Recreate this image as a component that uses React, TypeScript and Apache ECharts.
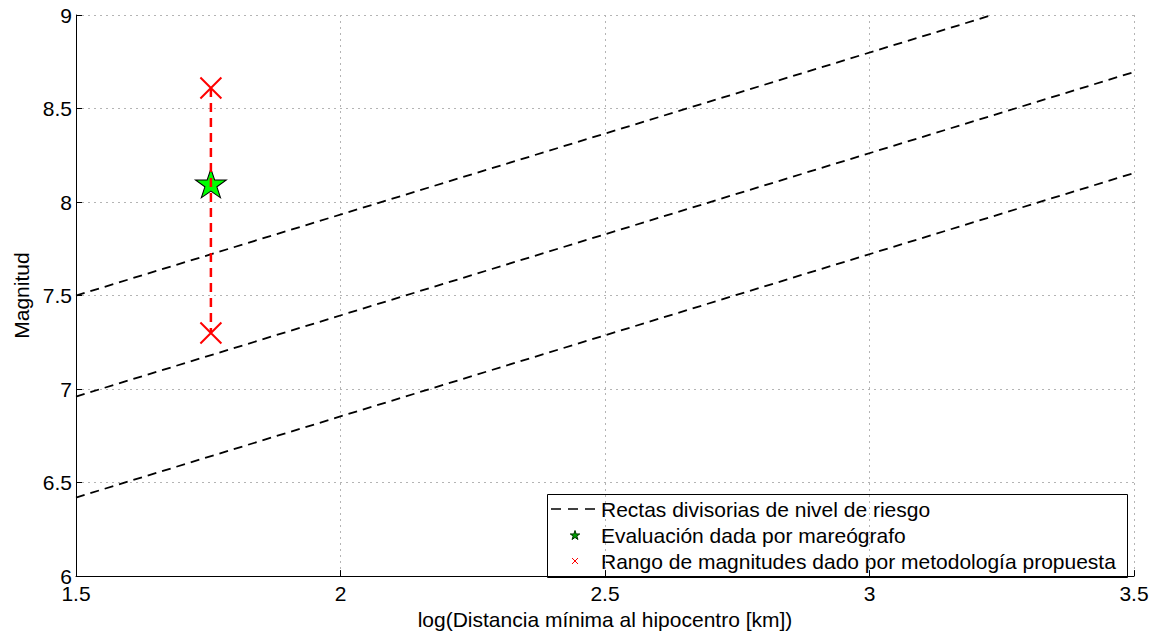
import React, { useEffect, useRef } from "react";
import * as echarts from "echarts";

// ---- data ----
const xTicksInterval = 0.5;
const xMin = 1.5;
const xMax = 3.5;
const yMin = 6;
const yMax = 9;
const riskLine1 = [[1.5, 7.5], [3.232, 9.0]];
const riskLine2 = [[1.5, 6.96], [3.5, 8.695]];
const riskLine3 = [[1.5, 6.42], [3.5, 8.155]];
const tideGauge = [[1.755, 8.1]];
const magnitudeRange = [[1.755, 8.61], [1.755, 7.3]];
const legendLabels = [
  "Rectas divisorias de nivel de riesgo",
  "Evaluación dada por mareógrafo",
  "Rango de magnitudes dado por metodología propuesta",
];
const xName = "log(Distancia mínima al hipocentro [km])";
const yName = "Magnitud";

const FONT = "'Liberation Sans', Arial, sans-serif";
const FS = 21;

const starPath =
  "path://M50,0 L61.8,35.1 L98.9,35.1 L68.9,56.9 L80.3,91.9 L50,70.3 L19.7,91.9 L31.1,56.9 L1.1,35.1 L38.2,35.1 Z";
const crossPath = "path://M0,0 L10,10 M10,0 L0,10";

function starPoints(cx: number, cy: number, R: number): number[][] {
  const pts: number[][] = [];
  const r = R * 0.382;
  for (let i = 0; i < 10; i++) {
    const a = -Math.PI / 2 + (i * Math.PI) / 5;
    const rad = i % 2 === 0 ? R : r;
    pts.push([cx + rad * Math.cos(a), cy + rad * Math.sin(a)]);
  }
  return pts;
}

export default function App() {
  const ref = useRef<HTMLDivElement>(null);
  useEffect(() => {
    if (!ref.current) return;
    const chart = echarts.init(ref.current, null, { renderer: "svg" });
    const dashBlack = {
      color: "#000",
      width: 1.8,
      type: [9, 6] as any,
    };
    const lg = { x: 547.5, y: 494.5, w: 580, h: 83 };
    const rows = [509, 535, 561];
    const textX = 601;
    const iconX = 575;
    chart.setOption({
      animation: false,
      backgroundColor: "#fff",
      grid: { left: 76, right: 31, top: 15, bottom: 52, containLabel: false },
      xAxis: {
        type: "value",
        min: xMin,
        max: xMax,
        interval: xTicksInterval,
        name: xName,
        nameLocation: "middle",
        nameGap: 27,
        nameTextStyle: { fontFamily: FONT, fontSize: FS, color: "#000" },
        axisLine: { show: true, onZero: false, lineStyle: { color: "#000", width: 1 } },
        axisTick: { show: true, inside: true, length: 6, lineStyle: { color: "#000" } },
        axisLabel: {
          fontFamily: FONT,
          fontSize: FS,
          color: "#000",
          margin: 7,
          formatter: (v: number) => String(v),
        },
        splitLine: {
          show: true,
          lineStyle: { color: "#b4b4b4", type: [2, 4] as any, width: 1 },
        },
      },
      yAxis: {
        type: "value",
        min: yMin,
        max: yMax,
        interval: 0.5,
        name: yName,
        nameLocation: "middle",
        nameRotate: 90,
        nameGap: 40,
        nameTextStyle: { fontFamily: FONT, fontSize: FS, color: "#000" },
        axisLine: { show: true, onZero: false, lineStyle: { color: "#000", width: 1 } },
        axisTick: { show: true, inside: true, length: 6, lineStyle: { color: "#000" } },
        axisLabel: {
          fontFamily: FONT,
          fontSize: FS,
          color: "#000",
          margin: 4,
          formatter: (v: number) => String(v),
        },
        splitLine: {
          show: true,
          lineStyle: { color: "#b4b4b4", type: [2, 4] as any, width: 1 },
        },
      },
      series: [
        { type: "line", data: riskLine1, symbol: "none", lineStyle: dashBlack, silent: true },
        { type: "line", data: riskLine2, symbol: "none", lineStyle: dashBlack, silent: true },
        { type: "line", data: riskLine3, symbol: "none", lineStyle: dashBlack, silent: true },
        {
          type: "scatter",
          data: tideGauge,
          symbol: starPath,
          symbolSize: [31, 29],
          itemStyle: { color: "#00ff00", borderColor: "#000", borderWidth: 1, opacity: 1 },
          z: 3,
        },
        {
          type: "line",
          data: magnitudeRange,
          symbol: crossPath,
          symbolSize: 21,
          showSymbol: true,
          lineStyle: { color: "#ff0000", width: 2.5, type: [9, 6] as any },
          itemStyle: { color: "transparent", borderColor: "#ff0000", borderWidth: 2 },
          z: 4,
        },
      ],
      graphic: [
        {
          type: "group",
          z: 100,
          children: [
            {
              type: "rect",
              shape: { x: lg.x, y: lg.y, width: lg.w, height: lg.h },
              style: { fill: "#fff", stroke: "#000", lineWidth: 1 },
            },
            {
              type: "line",
              shape: { x1: 551, y1: rows[0], x2: 596, y2: rows[0] },
              style: { stroke: "#000", lineWidth: 1.6, lineDash: [10, 7] },
            },
            {
              type: "polygon",
              shape: { points: starPoints(iconX, rows[1] + 0.5, 5) },
              style: { fill: "#00a000", stroke: "#003300", lineWidth: 1 },
            },
            {
              type: "line",
              shape: { x1: iconX - 3, y1: rows[2] - 3, x2: iconX + 3, y2: rows[2] + 3 },
              style: { stroke: "#ff0000", lineWidth: 1 },
            },
            {
              type: "line",
              shape: { x1: iconX + 3, y1: rows[2] - 3, x2: iconX - 3, y2: rows[2] + 3 },
              style: { stroke: "#ff0000", lineWidth: 1 },
            },
            ...legendLabels.map((t, i) => ({
              type: "text",
              x: textX,
              y: rows[i],
              style: {
                text: t,
                fontFamily: FONT,
                fontSize: FS,
                fill: "#000",
                verticalAlign: "middle",
                align: "left",
              },
            })),
          ],
        },
      ],
    });
    return () => chart.dispose();
  }, []);
  return (
    <div
      ref={ref}
      style={{ position: "fixed", left: 0, top: 0, width: 1165, height: 635, background: "#fff" }}
    />
  );
}
